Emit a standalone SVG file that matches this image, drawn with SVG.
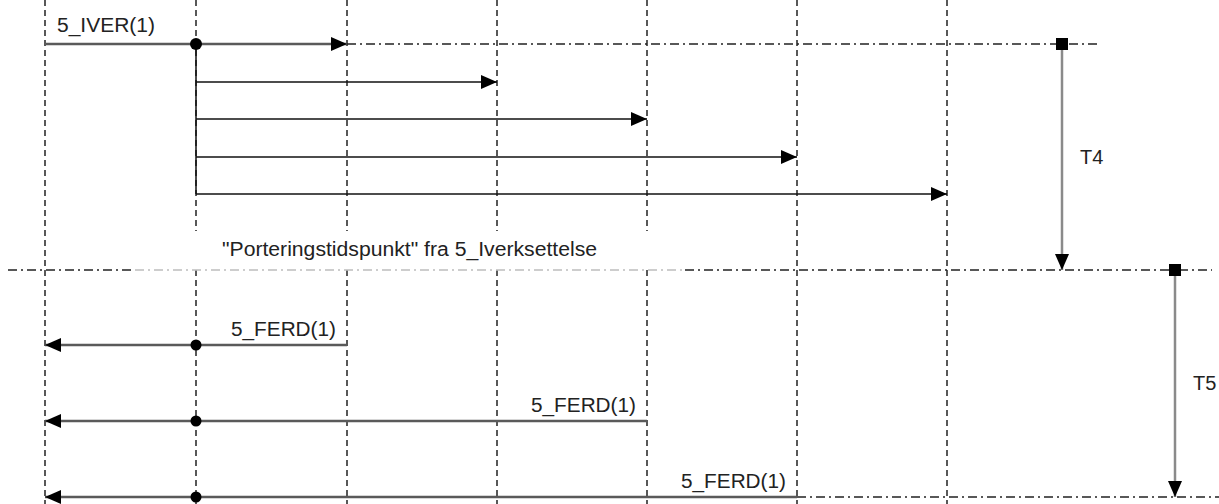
<svg xmlns="http://www.w3.org/2000/svg" width="1219" height="504" viewBox="0 0 1219 504">
<style>
.life{stroke:#222;stroke-width:1.5;stroke-dasharray:6 4;fill:none}
.dd{stroke:#222;stroke-width:1.5;stroke-dasharray:9 4 2 4;fill:none}
.ddl{stroke:#bdbdbd;stroke-width:1.5;stroke-dasharray:9 4 2 4;fill:none}
.msg{stroke:#5a5a5a;stroke-width:2.5;fill:none}
.thin{stroke:#111;stroke-width:1.5;fill:none}
.dur{stroke:#8a8a8a;stroke-width:2.5;fill:none}
.lbl{font-family:"Liberation Sans",Arial,sans-serif;font-size:20px;fill:#222}
</style>
<defs>
<marker id="ah" markerUnits="userSpaceOnUse" markerWidth="17" markerHeight="15" refX="16" refY="7" orient="auto">
<path d="M0,0 L16,7 L0,14 z" fill="#000"/>
</marker>
</defs>
<g id="lifelines">
<g id="life-1"><line class="life" x1="45" y1="0" x2="45" y2="504"/></g>
<g id="life-2"><line class="life" x1="196" y1="0" x2="196" y2="231"/><line class="life" x1="196" y1="270" x2="196" y2="504"/></g>
<g id="life-3"><line class="life" x1="347" y1="0" x2="347" y2="231"/><line class="life" x1="347" y1="270" x2="347" y2="504"/></g>
<g id="life-4"><line class="life" x1="497" y1="0" x2="497" y2="231"/><line class="life" x1="497" y1="270" x2="497" y2="504"/></g>
<g id="life-5"><line class="life" x1="647" y1="0" x2="647" y2="231"/><line class="life" x1="647" y1="270" x2="647" y2="504"/></g>
<g id="life-6"><line class="life" x1="797" y1="0" x2="797" y2="504"/></g>
<g id="life-7"><line class="life" x1="947" y1="0" x2="947" y2="504"/></g>
</g>
<g id="timelines">
<line class="dd" x1="347" y1="44" x2="1101" y2="44"/>
<line class="dd" x1="8" y1="270" x2="135" y2="270"/>
<line class="ddl" x1="135" y1="270" x2="685" y2="270"/>
<line class="dd" x1="685" y1="270" x2="1212" y2="270"/>
<line class="dd" x1="797" y1="497" x2="1219" y2="497"/>
</g>
<g id="connectors">
<line class="msg" x1="45" y1="44" x2="347" y2="44" marker-end="url(#ah)"/>
<line class="thin" x1="196" y1="44" x2="196" y2="194"/>
<line class="thin" x1="196" y1="82" x2="497" y2="82" marker-end="url(#ah)"/>
<line class="thin" x1="196" y1="119" x2="647" y2="119" marker-end="url(#ah)"/>
<line class="thin" x1="196" y1="157" x2="797" y2="157" marker-end="url(#ah)"/>
<line class="thin" x1="196" y1="194" x2="947" y2="194" marker-end="url(#ah)"/>
<line class="msg" x1="347" y1="345" x2="45" y2="345" marker-end="url(#ah)"/>
<line class="msg" x1="647" y1="421" x2="45" y2="421" marker-end="url(#ah)"/>
<line class="msg" x1="797" y1="497" x2="45" y2="497" marker-end="url(#ah)"/>
<line class="dur" x1="1062" y1="44" x2="1062" y2="270" marker-end="url(#ah)"/>
<line class="dur" x1="1175" y1="270" x2="1175" y2="497" marker-end="url(#ah)"/>
</g>
<g id="points" fill="#000">
<circle cx="196" cy="44" r="6"/>
<circle cx="196" cy="345" r="5.5"/>
<circle cx="196" cy="421" r="5.5"/>
<circle cx="196" cy="497" r="5.5"/>
<rect x="1056" y="38" width="12" height="12"/>
<rect x="1169" y="264" width="12" height="12"/>
</g>
<g id="labels">
<text class="lbl" x="57" y="32" textLength="98" lengthAdjust="spacingAndGlyphs">5_IVER(1)</text>
<text class="lbl" x="222" y="256" textLength="375" lengthAdjust="spacingAndGlyphs">"Porteringstidspunkt" fra 5_Iverksettelse</text>
<text class="lbl" x="231" y="336" textLength="105" lengthAdjust="spacingAndGlyphs">5_FERD(1)</text>
<text class="lbl" x="531" y="412" textLength="105" lengthAdjust="spacingAndGlyphs">5_FERD(1)</text>
<text class="lbl" x="681" y="488" textLength="105" lengthAdjust="spacingAndGlyphs">5_FERD(1)</text>
<text class="lbl" x="1080" y="164">T4</text>
<text class="lbl" x="1193" y="390">T5</text>
</g>
</svg>
